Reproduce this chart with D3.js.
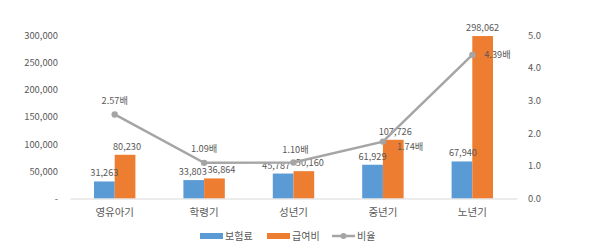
<!DOCTYPE html>
<html><head><meta charset="utf-8">
<script src="https://cdn.jsdelivr.net/npm/d3@7"></script>
<style>body{margin:0;background:#fff}svg{display:block}text{font-family:"Noto Sans CJK KR","Noto Sans",sans-serif;fill:#595959}</style>
</head><body><svg id="c" width="600" height="251"></svg>
<script>
const categories = ["영유아기","학령기","성년기","중년기","노년기"];
const premium = [31263, 33803, 45787, 61929, 67940];
const benefit = [80230, 36864, 50160, 107726, 298062];
const ratio = [2.57, 1.09, 1.10, 1.74, 4.39];
const leftTicks = [0, 50000, 100000, 150000, 200000, 250000, 300000];
const rightTicks = [0, 1, 2, 3, 4, 5];
const seriesNames = ["보험료","급여비","비율"];
const colors = ["#5B9BD5","#ED7D31","#A5A5A5"];

const svg = d3.select("#c");
const x0 = 70, x1 = 517, yTop = 35, yBot = 198.5;
const x = d3.scaleBand().domain(categories).range([x0, x1]).paddingInner(0).paddingOuter(0);
const yL = d3.scaleLinear().domain([0, 300000]).range([yBot, yTop]);
const yR = d3.scaleLinear().domain([0, 5]).range([yBot, yTop]);
const bw = 20.7;
const fmt = d3.format(",");
const numSize = "9.2px";
// manual label nudges (layout only)
const premNudge = [0, -1, -7, 0, 1];
const beneNudge = [2, 7, 6, 2, 0];

// left axis
const la = svg.append("g").attr("transform", `translate(${x0},0)`)
  .call(d3.axisLeft(yL).tickValues(leftTicks).tickSize(0).tickPadding(12)
  .tickFormat(d => d === 0 ? "-" : fmt(d)));
la.select(".domain").remove();
la.selectAll("text").style("font-size", "9.4px").attr("fill", "#595959");

// right axis
const ra = svg.append("g").attr("transform", `translate(${x1},0)`)
  .call(d3.axisRight(yR).tickValues(rightTicks).tickSize(0).tickPadding(11)
  .tickFormat(d3.format(".1f")));
ra.select(".domain").remove();
ra.selectAll("text").style("font-size", "9.4px").attr("fill", "#595959");

// bars
const cx = c => x(c) + x.bandwidth() / 2;
svg.append("g").selectAll("rect.p").data(categories).join("rect")
  .attr("x", c => cx(c) - bw).attr("width", bw)
  .attr("y", (c, i) => yL(premium[i])).attr("height", (c, i) => yBot - yL(premium[i]))
  .attr("fill", colors[0]);
svg.append("g").selectAll("rect.b").data(categories).join("rect")
  .attr("x", c => cx(c)).attr("width", bw)
  .attr("y", (c, i) => yL(benefit[i])).attr("height", (c, i) => yBot - yL(benefit[i]))
  .attr("fill", colors[1]);

// x axis
const xa = svg.append("g").attr("transform", `translate(0,${yBot})`)
  .call(d3.axisBottom(x).tickSize(0).tickPadding(10));
xa.select(".domain").attr("stroke", "#D9D9D9").attr("stroke-width", 1.2);
xa.selectAll("text").style("font-size", "10.5px").attr("fill", "#595959");

// bar labels
svg.append("g").selectAll("text").data(categories).join("text")
  .attr("x", (c, i) => cx(c) - bw / 2 + premNudge[i]).attr("y", (c, i) => yL(premium[i]) - 5)
  .attr("text-anchor", "middle").style("font-size", numSize).text((c, i) => fmt(premium[i]));
svg.append("g").selectAll("text").data(categories).join("text")
  .attr("x", (c, i) => cx(c) + bw / 2 + beneNudge[i]).attr("y", (c, i) => yL(benefit[i]) - 5)
  .attr("text-anchor", "middle").style("font-size", numSize).text((c, i) => fmt(benefit[i]));

// line
const line = d3.line().x((d, i) => cx(categories[i])).y(d => yR(d));
svg.append("path").datum(ratio).attr("d", line).attr("fill", "none")
  .attr("stroke", colors[2]).attr("stroke-width", 2.5);
svg.append("g").selectAll("circle").data(ratio).join("circle")
  .attr("cx", (d, i) => cx(categories[i])).attr("cy", d => yR(d)).attr("r", 3.2)
  .attr("fill", colors[2]);

// ratio labels
const lblPos = [[0, -10, "middle"], [0, -11, "middle"], [2, -10, "middle"], [14, 8, "start"], [12, 3, "start"]];
svg.append("g").selectAll("text").data(ratio).join("text")
  .attr("x", (d, i) => cx(categories[i]) + lblPos[i][0])
  .attr("y", (d, i) => yR(d) + lblPos[i][1])
  .attr("text-anchor", (d, i) => lblPos[i][2])
  .style("font-size", numSize).text(d => d.toFixed(2) + "배");

// legend
const lg = svg.append("g").attr("transform", "translate(0,236)");
const lx = [200, 267, 332];
seriesNames.forEach((n, i) => {
  if (i < 2) {
    lg.append("rect").attr("x", lx[i]).attr("y", -3).attr("width", 23).attr("height", 6).attr("fill", colors[i]);
  } else {
    lg.append("line").attr("x1", lx[i]).attr("x2", lx[i] + 23).attr("y1", 0).attr("y2", 0)
      .attr("stroke", colors[2]).attr("stroke-width", 2.5);
    lg.append("circle").attr("cx", lx[i] + 11.5).attr("cy", 0).attr("r", 3).attr("fill", colors[2]);
  }
  lg.append("text").attr("x", lx[i] + 25).attr("y", 3.8).style("font-size", "10px").text(n);
});
</script></body></html>
